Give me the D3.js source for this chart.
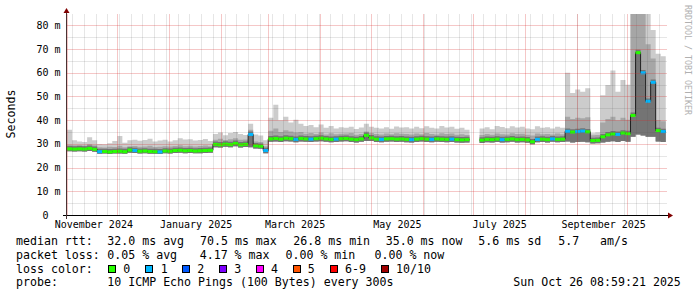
<!DOCTYPE html>
<html>
<head>
<meta charset="utf-8">
<script src="https://cdn.jsdelivr.net/npm/d3@7"></script>
<style>
  body { margin: 0; background: #fff; }
  svg { display: block; }
  text { font-family: "DejaVu Sans Mono", monospace; white-space: pre; }
</style>
</head>
<body>
<script>
// one value per 3-day step, starting 1 Nov 2024 (ms)
var median = [
  27.9, 27.8, 27.9, 27.8, 28.1, 27.7, 26.7, 26.8, 26.6, 26.8,
  26.9, 26.7, 27.4, 27.2, 26.9, 27.0, 26.8, 26.7, 26.6, 27.0,
  26.9, 27.2, 27.3, 27.1, 27.2, 27.0, 27.1, 27.2, 27.3, 29.8,
  29.6, 29.9, 29.7, 30.2, 29.6, 29.8, 34.0, 29.2, 29.0, 27.2,
  32.1, 32.3, 32.0, 32.4, 32.2, 31.9, 32.3, 32.1, 32.0, 32.2,
  32.4, 32.1, 31.9, 32.0, 32.2, 32.3, 32.0, 31.8, 32.1, 33.6,
  32.5, 32.0, 31.9, 32.1, 32.2, 32.0, 32.1, 31.9, 31.8, 32.0,
  32.2, 32.0, 31.9, 32.1, 32.0, 31.9, 32.0, 31.8, 31.7, 31.8,
  null, null, 31.6, 31.9, 31.8, 32.0, 31.8, 31.9, 32.1, 31.8,
  31.9, 31.7, 30.9, 31.9, 32.0, 31.8, 32.1, 31.9, 32.0, 35.3,
  35.0, 35.2, 35.4, 35.1, 31.4, 31.5, 33.0, 33.8, 34.2, 34.0,
  34.6, 34.3, 42.0, 68.5, 60.0, 48.0, 56.0, 35.6, 35.2
];
var smokeHigh = [
  36.0, 31.5, 31.0, 30.8, 32.8, 31.5, 30.0, 29.8, 30.3, 31.2,
  33.3, 30.5, 31.5, 31.8, 31.3, 31.6, 32.2, 31.0, 31.4, 31.8,
  31.0, 31.5, 32.4, 31.9, 32.0, 31.4, 31.6, 32.1, 31.2, 34.2,
  34.8, 33.6, 34.6, 35.0, 34.2, 33.8, 38.5, 34.0, 33.5, 31.5,
  41.0, 46.5, 40.0, 41.5, 39.0, 40.2, 38.5, 37.5, 38.0, 37.0,
  38.2, 36.8, 37.5, 36.5, 37.0, 36.8, 37.2, 36.3, 36.9, 38.5,
  37.2, 36.8, 36.5, 37.0, 36.4, 37.3, 36.9, 37.0, 36.5, 37.2,
  36.6, 37.4, 36.8, 36.5, 37.5, 36.9, 37.2, 36.4, 36.8, 36.0,
  null, null, 36.5, 37.0, 36.2, 37.5, 37.1, 36.6, 37.4, 36.9,
  37.2, 36.5, 36.2, 37.4, 36.8, 37.0, 36.5, 37.2, 36.8, 60.0,
  51.5, 53.0, 52.0, 53.5, 34.5, 34.8, 50.5, 54.8, 61.0, 52.0,
  57.0, 55.0, 90.0, 90.0, 90.0, 90.0, 78.0, 68.0, 67.0
];
var smokeMid = [
  29.6, 29.4, 29.5, 29.3, 29.8, 29.4, 28.6, 28.5, 28.8, 28.7,
  29.2, 28.6, 29.0, 29.1, 28.8, 28.9, 29.2, 28.7, 28.8, 29.0,
  28.9, 29.1, 29.4, 29.0, 29.2, 28.9, 29.1, 29.3, 29.0, 31.8,
  32.2, 31.6, 32.0, 32.4, 31.8, 31.9, 36.0, 31.0, 30.8, 29.0,
  35.5, 36.5, 35.0, 35.8, 35.2, 34.8, 35.0, 34.3, 34.6, 34.2,
  34.8, 34.0, 34.5, 34.1, 34.3, 34.4, 34.6, 33.9, 34.2, 35.2,
  34.6, 34.2, 34.0, 34.4, 34.1, 34.5, 34.3, 34.2, 34.0, 34.4,
  34.1, 34.6, 34.2, 34.0, 34.5, 34.2, 34.4, 33.9, 34.1, 33.8,
  null, null, 33.8, 34.2, 33.9, 34.4, 34.1, 34.0, 34.5, 34.2,
  34.3, 33.9, 33.5, 34.4, 34.1, 34.2, 34.0, 34.4, 34.1, 41.5,
  40.5, 41.0, 40.8, 41.2, 33.6, 33.8, 39.0, 40.5, 41.5, 40.0,
  41.0, 40.2, 85.0, 88.0, 86.0, 72.0, 66.0, 40.0, 39.5
];
var smokeLow = [
  26.9, 26.8, 26.9, 26.8, 27.0, 26.7, 25.8, 25.9, 25.7, 25.9,
  25.9, 25.8, 26.3, 26.2, 25.9, 26.0, 25.8, 25.8, 25.7, 26.0,
  25.9, 26.2, 26.3, 26.1, 26.2, 26.0, 26.1, 26.2, 26.3, 28.6,
  28.5, 28.8, 28.6, 29.0, 28.5, 28.7, 28.6, 28.1, 27.9, 26.0,
  30.9, 31.0, 30.8, 31.1, 31.0, 30.7, 31.0, 30.9, 30.8, 31.0,
  31.1, 30.9, 30.7, 30.8, 31.0, 31.1, 30.8, 30.6, 30.9, 31.2,
  31.2, 30.8, 30.7, 30.9, 31.0, 30.8, 30.9, 30.7, 30.6, 30.8,
  31.0, 30.8, 30.7, 30.9, 30.8, 30.7, 30.8, 30.6, 30.5, 30.6,
  null, null, 30.4, 30.7, 30.6, 30.8, 30.6, 30.7, 30.9, 30.6,
  30.7, 30.5, 29.8, 30.7, 30.8, 30.6, 30.9, 30.7, 30.8, 31.0,
  30.6, 30.8, 30.9, 30.7, 30.2, 30.3, 30.6, 30.9, 31.1, 30.8,
  31.2, 30.9, 33.0, 34.0, 33.5, 33.0, 33.0, 31.0, 30.8
];
// lost pings out of 10 for each step
var loss = [
  0, 0, 0, 0, 0, 0, 1, 0, 0, 0,
  0, 0, 0, 1, 0, 0, 0, 0, 1, 0,
  0, 0, 0, 0, 0, 0, 0, 0, 0, 0,
  0, 0, 0, 0, 0, 0, 1, 0, 0, 1,
  0, 0, 0, 0, 0, 1, 0, 0, 1, 0,
  0, 0, 0, 1, 0, 0, 0, 0, 0, 0,
  0, 0, 1, 0, 0, 0, 0, 0, 1, 0,
  0, 0, 1, 0, 0, 0, 1, 0, 0, 0,
  0, 0, 0, 0, 0, 0, 1, 0, 0, 0,
  0, 0, 0, 1, 0, 0, 1, 0, 0, 1,
  0, 1, 1, 0, 0, 0, 0, 0, 0, 1,
  0, 0, 0, 0, 1, 1, 1, 0, 1
];

var yTickValues = [0, 10, 20, 30, 40, 50, 60, 70, 80];
var yTickLabels = ['0  ', '10 m', '20 m', '30 m', '40 m', '50 m', '60 m', '70 m', '80 m'];
var xLabelMonths = ['2024-11-01', '2025-01-01', '2025-03-01', '2025-05-01', '2025-07-01', '2025-09-01'];
var xLabels = ['November 2024', 'January 2025', 'March 2025', 'May 2025', 'July 2025', 'September 2025'];

var lossColors = ['#26ff00', '#00b8ff', '#0059ff', '#7e00ff', '#ff00ff', '#ff5500', '#ff0000', '#a00000'];
var lossLabels = ['0', '1', '2', '3', '4', '5', '6-9', '10/10'];

var rttLegend = ['median rtt:', '32.0 ms avg', '70.5 ms max', '26.8 ms min', '35.0 ms now', '5.6 ms sd', '5.7', 'am/s'];
var lossLegend = ['packet loss:', '0.05 % avg', '4.17 % max', '0.00 % min', '0.00 % now'];
var probeLegend = ['probe:', '10 ICMP Echo Pings (100 Bytes) every 300s', 'Sun Oct 26 08:59:21 2025'];

var startDate = new Date(Date.UTC(2024, 10, 1));
var endDate = new Date(Date.UTC(2025, 9, 24, 18));
var stepDays = 3;

var x = d3.scaleUtc().domain([startDate, endDate]).range([67, 667]);
var y = d3.scaleLinear().domain([0, 84.8]).range([215, 14]);

var svg = d3.select('body').append('svg').attr('width', 697).attr('height', 297);

svg.append('clipPath').attr('id', 'plot')
  .append('rect').attr('x', 67).attr('y', 14).attr('width', 600).attr('height', 201);

var steps = median.map(function (m, i) {
  return {
    t0: d3.utcDay.offset(startDate, i * stepDays),
    t1: d3.utcDay.offset(startDate, (i + 1) * stepDays),
    med: m, low: smokeLow[i], mid: smokeMid[i], high: smokeHigh[i], loss: loss[i]
  };
});

// two points per step so each step is flat and gaps stay gaps
var pts = [];
steps.forEach(function (s) {
  pts.push({ t: s.t0, s: s }, { t: s.t1, s: s });
});

var plot = svg.append('g').attr('clip-path', 'url(#plot)');

function band(top, color) {
  var area = d3.area()
    .defined(function (p) { return p.s.low != null; })
    .x(function (p) { return x(p.t); })
    .y0(function (p) { return y(p.s.low); })
    .y1(top);
  plot.append('path').datum(pts).attr('d', area).attr('fill', color);
}

band(function (p) { return y(p.s.high); }, '#cccccc');
band(function (p) { return y(p.s.mid); }, '#a6a6a6');
band(function (p) { return y(p.s.med + 1.2); }, '#747474');

var medLine = d3.line()
  .defined(function (p) { return p.s.med != null; })
  .x(function (p) { return x(p.t); })
  .y(function (p) { return y(p.s.med); });

plot.append('path').datum(pts).attr('d', medLine)
  .attr('fill', 'none').attr('stroke', '#202020').attr('stroke-width', 1);

plot.selectAll('rect.med')
  .data(steps.filter(function (s) { return s.med != null; }))
  .enter().append('rect')
  .attr('class', 'med')
  .attr('x', function (s) { return x(s.t0); })
  .attr('width', function (s) { return x(s.t1) - x(s.t0); })
  .attr('y', function (s) { return y(s.med) - 1.5; })
  .attr('height', 3)
  .attr('fill', function (s) { return lossColors[s.loss]; });

// faint grid on top of the data, like rrdtool
var grid = svg.append('g').attr('stroke-width', 1).attr('shape-rendering', 'crispEdges');
var minorGray = 'rgba(90,90,90,0.15)';
var majorRed = 'rgba(215,40,40,0.26)';

function hLines(cls, values, color) {
  grid.selectAll('line.' + cls).data(values).enter().append('line')
    .attr('class', cls)
    .attr('x1', 67).attr('x2', 667)
    .attr('y1', function (v) { return Math.round(y(v)) + 0.5; })
    .attr('y2', function (v) { return Math.round(y(v)) + 0.5; })
    .attr('stroke', color);
}
function vLines(cls, dates, color) {
  grid.selectAll('line.' + cls).data(dates).enter().append('line')
    .attr('class', cls)
    .attr('x1', function (d) { return Math.round(x(d)) + 0.5; })
    .attr('x2', function (d) { return Math.round(x(d)) + 0.5; })
    .attr('y1', 14).attr('y2', 215)
    .attr('stroke', color);
}

hLines('hmin', d3.range(5, 85, 10), minorGray);
vLines('vmin', d3.utcMonday.range(startDate, endDate), minorGray);
hLines('hmaj', yTickValues.slice(1), majorRed);
vLines('vmaj', d3.utcMonth.range(startDate, endDate), majorRed);

// axes
svg.append('line').attr('x1', 63).attr('x2', 669).attr('y1', 215.5).attr('y2', 215.5)
  .attr('stroke', '#000');
svg.append('line').attr('x1', 66.5).attr('x2', 66.5).attr('y1', 219).attr('y2', 12)
  .attr('stroke', '#4a3434');
svg.append('path').attr('d', 'M668,212.5L673,215.5L668,218.5Z').attr('fill', '#800000');
svg.append('path').attr('d', 'M63.5,13L66.5,8L69.5,13Z').attr('fill', '#800000');

svg.selectAll('text.ylab').data(yTickValues).enter().append('text')
  .attr('class', 'ylab')
  .attr('x', 60.5)
  .attr('y', function (v) { return y(v) + 3.6; })
  .attr('text-anchor', 'end')
  .attr('font-size', '10px')
  .attr('fill', '#000')
  .text(function (v, i) { return yTickLabels[i]; });

svg.selectAll('text.xlab').data(xLabelMonths).enter().append('text')
  .attr('class', 'xlab')
  .attr('x', function (m) { return x(d3.utcDay.offset(new Date(m), 16)); })
  .attr('y', 228)
  .attr('text-anchor', 'middle')
  .attr('font-size', '10px')
  .attr('fill', '#000')
  .text(function (m, i) { return xLabels[i]; });

svg.append('text')
  .attr('transform', 'translate(15,114) rotate(-90)')
  .attr('text-anchor', 'middle')
  .attr('font-size', '11.6px')
  .attr('fill', '#000')
  .text('Seconds');

svg.append('text')
  .attr('transform', 'translate(685,5) rotate(90)')
  .attr('font-size', '8.3px')
  .attr('fill', '#b0b0b0')
  .text('RRDTOOL / TOBI OETIKER');

// legend
var legend = svg.append('g').attr('font-size', '11.6px').attr('fill', '#000');

function legendRow(items, xs, baseline) {
  items.forEach(function (t, i) {
    legend.append('text').attr('x', xs[i]).attr('y', baseline).text(t);
  });
}

legendRow(rttLegend, [16, 107.3, 200, 293.3, 385.7, 478.3, 558.3, 600], 245);
legendRow(lossLegend, [16, 107.3, 199.7, 285.5, 374.5], 258.7);
legendRow(['loss color:'], [16], 272.5);
legendRow(probeLegend, [16, 107.3, 513.3], 286.2);

var boxX = [108.5, 145.5, 182.5, 219.5, 256.5, 293.5, 330.5, 381.5];
var boxLabelX = [123.3, 160.7, 197.3, 234.3, 271, 307.7, 345, 396];
lossColors.forEach(function (c, i) {
  legend.append('rect').attr('x', boxX[i]).attr('y', 265.5).attr('width', 7).attr('height', 7)
    .attr('fill', c).attr('stroke', '#000').attr('stroke-width', 1);
  legend.append('text').attr('x', boxLabelX[i]).attr('y', 272.5).text(lossLabels[i]);
});
</script>
</body>
</html>
